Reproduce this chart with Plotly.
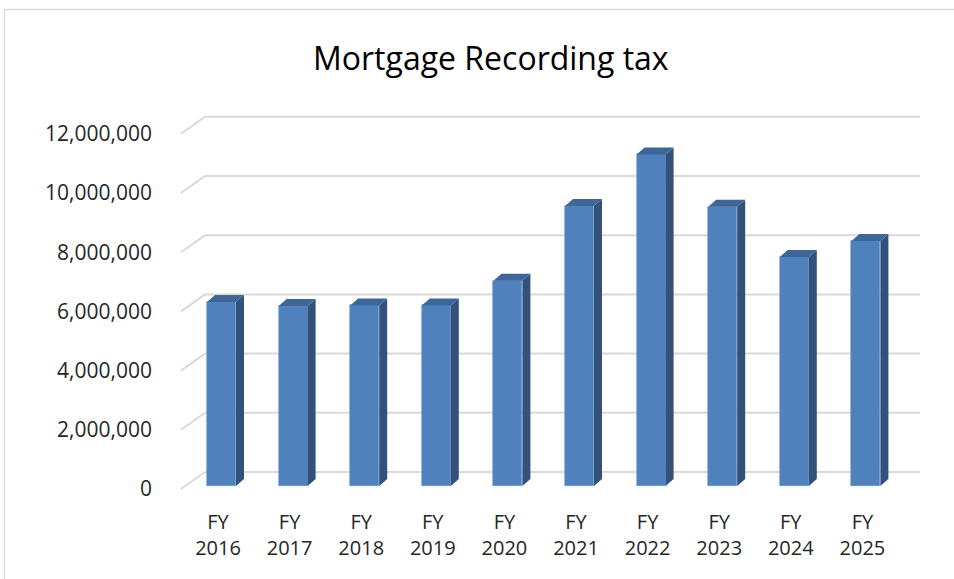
import plotly.graph_objects as go

# ---- data ----
categories = ["FY<br>2016", "FY<br>2017", "FY<br>2018", "FY<br>2019", "FY<br>2020",
              "FY<br>2021", "FY<br>2022", "FY<br>2023", "FY<br>2024", "FY<br>2025"]
values = [6220000, 6080000, 6100000, 6100000, 6930000,
          9460000, 11200000, 9430000, 7740000, 8280000]
tick_vals = [0, 2000000, 4000000, 6000000, 8000000, 10000000, 12000000]
tick_text = ["0", "2,000,000", "4,000,000", "6,000,000", "8,000,000", "10,000,000", "12,000,000"]
title = "Mortgage Recording tax"

# ---- geometry (pixels) ----
W, H = 954, 579
BASE = 486           # pixel row of the bar base
L, R, T, B = 181, 34, 100, 83
plot_w = W - L - R
plot_h = H - T - B
PX_X = 71.6          # px per category
PX_Y = 29.6 / 1e6    # px per value unit
x0 = -(218 - L) / PX_X
x1 = x0 + plot_w / PX_X
y0 = -((H - B) - BASE) / PX_Y
y1 = y0 + plot_h / PX_Y
label_shift = 3 / PX_Y   # front edge of the floor sits 3px below bar base

bar_offset = (207 - 218) / PX_X
bar_width = 29 / PX_X
dx = 8 / PX_X
dy = 7 / PX_Y

FRONT = "#4F81BD"
SIDE = "#33527B"
TOP = "#3E6697"
GRID = "#D9D9D9"
FONT = "Open Sans"
TXT = "#262626"

xs = list(range(len(categories)))

fig = go.Figure()
fig.add_trace(go.Bar(
    x=xs, y=values, width=bar_width, offset=bar_offset,
    marker=dict(color=FRONT, line=dict(color="#6A96CC", width=0.6)),
    hoverinfo="skip", showlegend=False,
))
# empty trace so the label axis is drawn
fig.add_trace(go.Scatter(x=[], y=[], yaxis="y2", showlegend=False, hoverinfo="skip"))

shapes = []
# back-wall gridlines + left wall diagonals
back_start = (205 - L) / plot_w
for v in tick_vals:
    vb = v + 14 / PX_Y
    vf = v - label_shift
    shapes.append(dict(type="line", xref="paper", yref="y", x0=back_start, x1=1,
                       y0=vb, y1=vb, line=dict(color=GRID, width=2), layer="below"))
    shapes.append(dict(type="line", xref="paper", yref="y", x0=0, x1=back_start,
                       y0=vf, y1=vb, line=dict(color=GRID, width=2), layer="below"))

# 3D side and top faces
for i, v in zip(xs, values):
    xl = i + bar_offset
    xr = xl + bar_width
    side = f"M {xr},0 L {xr+dx},{dy} L {xr+dx},{v+dy} L {xr},{v} Z"
    top = f"M {xl},{v} L {xl+dx},{v+dy} L {xr+dx},{v+dy} L {xr},{v} Z"
    shapes.append(dict(type="path", xref="x", yref="y", path=side,
                       fillcolor=SIDE, line=dict(width=0)))
    shapes.append(dict(type="path", xref="x", yref="y", path=top,
                       fillcolor=TOP, line=dict(width=0)))

# chart frame
def px_x(p):
    return (p - L) / plot_w
def px_y(p):
    return (H - B - p) / plot_h
shapes.append(dict(type="rect", xref="paper", yref="paper",
                   x0=px_x(4.5), x1=px_x(970), y0=px_y(9.5), y1=px_y(600),
                   line=dict(color="#D9D9D9", width=1.5), layer="below"))

fig.update_layout(
    width=W, height=H,
    margin=dict(l=L, r=R, t=T, b=B, autoexpand=False),
    paper_bgcolor="white", plot_bgcolor="white",
    shapes=shapes,
    bargap=0,
    xaxis=dict(range=[x0, x1], tickvals=xs, ticktext=categories, showgrid=False,
               zeroline=False, showline=False, ticks="",
               tickfont=dict(family=FONT, size=20, color=TXT), ticklabelstandoff=12),
    yaxis=dict(range=[y0, y1], showgrid=False, zeroline=False, showline=False,
               ticks="", showticklabels=False),
    yaxis2=dict(range=[y0 + label_shift, y1 + label_shift], overlaying="y", side="left",
                tickvals=tick_vals, ticktext=tick_text, showgrid=False,
                zeroline=False, showline=False, ticks="",
                tickfont=dict(family=FONT, size=21, color=TXT), ticklabelstandoff=28),
    annotations=[dict(text=title, xref="paper", yref="paper",
                      x=px_x(491), y=px_y(57), xanchor="center", yanchor="middle",
                      showarrow=False, font=dict(family=FONT, size=32, color="#000000"))],
)

fig.write_html("out.html", config={"displayModeBar": False},
               post_script="document.body.style.margin='0';document.body.style.overflow='hidden';")
